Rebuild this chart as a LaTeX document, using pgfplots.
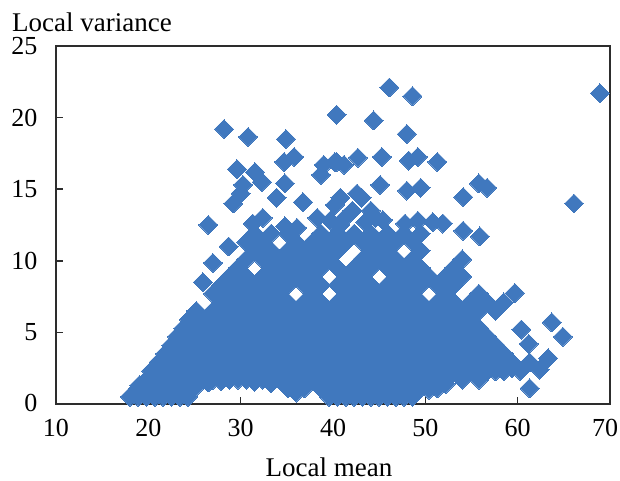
\documentclass[border=0pt]{standalone}
\usepackage{pgfplots}
\pgfplotsset{compat=1.18}
\usepackage{fontspec}
\setmainfont{Liberation Serif}
\definecolor{dia}{RGB}{64,120,190}
\definecolor{axl}{RGB}{45,45,45}
\begin{document}
\begin{tikzpicture}
\useasboundingbox (-56pt,-77pt) rectangle (564pt,404pt);
\begin{axis}[
  at={(0pt,0pt)}, anchor=south west,
  scale only axis, width=554pt, height=358pt,
  xmin=10, xmax=70, ymin=0, ymax=25,
  xtick={10,20,30,40,50,60,70},
  xticklabels={10,20,30,40,50,60,\hspace*{-10pt}70},
  ytick={0,5,10,15,20,25},
  yticklabels={\raisebox{3pt}{0},5,10,15,20,\raisebox{-5pt}{25}},
  tick align=inside, major tick length=7pt,
  tick style={line width=1.6pt,color=axl},
  xtick pos=bottom, ytick pos=left,
  axis line style={line width=1.6pt,color=axl},
  clip=false,
  tick label style={font=\fontsize{26}{26}\selectfont},
  xticklabel style={yshift=-12pt},
  yticklabel style={xshift=-15pt},
]
\addplot[only marks, color=dia, mark=square*, mark size=6.7pt,
  mark options={rotate=45,draw=dia,fill=dia,line width=0pt,solid}] coordinates {
(18,.5)(19.8,.5)(21.6,.5)(23.4,.5)(39.6,.5)(41.4,.5)(43.2,.5)(45,.5)(46.8,.5)(48.6,.5)
(18.9,.5)(20.7,.5)(22.5,.5)(24.3,.5)(40.5,.5)(42.3,.5)(44.1,.5)(45.9,.5)(47.7,.5)
(36,.8)
(18.9,1.1)(20.7,1.1)(22.5,1.1)(24.3,1.1)(35.1,1.1)(36.9,1.1)(38.7,1.1)(40.5,1.1)(42.3,1.1)(44.1,1.1)(45.9,1.1)(47.7,1.1)(49.5,1.1)(51.3,1.1)
(19,1.3)(25,1.1)(26.5,1.5)(27.9,1.6)(29.7,1.7)(31.5,1.55)(33.3,1.45)(35.1,1.1)(50.4,1)(52.2,1.4)(55.8,2)(57.6,2.3)(59.4,2.5)
(19.8,1.7)(21.6,1.7)(23.4,1.7)(25.2,1.7)(27,1.7)(28.8,1.7)(30.6,1.7)(32.4,1.7)(34.2,1.7)(36,1.7)(37.8,1.7)(39.6,1.7)(41.4,1.7)(43.2,1.7)(45,1.7)(46.8,1.7)(48.6,1.7)(50.4,1.7)(52.2,1.7)(54,1.7)(55.8,1.7)
(20.3,2.3)(21.1,2.9)(21.8,3.5)(22.5,4.1)(23.1,4.7)(23.8,5.3)(24.4,5.9)(25.2,6.5)
(20.7,2.3)(22.5,2.3)(24.3,2.3)(26.1,2.3)(27.9,2.3)(29.7,2.3)(31.5,2.3)(33.3,2.3)(35.1,2.3)(36.9,2.3)(38.7,2.3)(40.5,2.3)(42.3,2.3)(44.1,2.3)(45.9,2.3)(47.7,2.3)(49.5,2.3)(51.3,2.3)(53.1,2.3)(54.9,2.3)(56.7,2.3)(58.5,2.3)(60.3,2.3)
(21.6,2.9)(23.4,2.9)(25.2,2.9)(27,2.9)(28.8,2.9)(30.6,2.9)(32.4,2.9)(34.2,2.9)(36,2.9)(37.8,2.9)(39.6,2.9)(41.4,2.9)(43.2,2.9)(45,2.9)(46.8,2.9)(48.6,2.9)(50.4,2.9)(52.2,2.9)(54,2.9)(55.8,2.9)(57.6,2.9)(59.4,2.9)
(22.5,3.5)(24.3,3.5)(26.1,3.5)(27.9,3.5)(29.7,3.5)(31.5,3.5)(33.3,3.5)(35.1,3.5)(36.9,3.5)(38.7,3.5)(40.5,3.5)(42.3,3.5)(44.1,3.5)(45.9,3.5)(47.7,3.5)(49.5,3.5)(51.3,3.5)(53.1,3.5)(54.9,3.5)(56.7,3.5)(58.5,3.5)
(23.4,4.1)(25.2,4.1)(27,4.1)(28.8,4.1)(30.6,4.1)(32.4,4.1)(34.2,4.1)(36,4.1)(37.8,4.1)(39.6,4.1)(41.4,4.1)(43.2,4.1)(45,4.1)(46.8,4.1)(48.6,4.1)(50.4,4.1)(52.2,4.1)(54,4.1)(55.8,4.1)(57.6,4.1)
(24.3,4.7)(26.1,4.7)(27.9,4.7)(29.7,4.7)(31.5,4.7)(33.3,4.7)(35.1,4.7)(36.9,4.7)(38.7,4.7)(40.5,4.7)(42.3,4.7)(44.1,4.7)(45.9,4.7)(47.7,4.7)(49.5,4.7)(51.3,4.7)(53.1,4.7)(54.9,4.7)(56.7,4.7)
(25.2,5.3)(27,5.3)(28.8,5.3)(30.6,5.3)(32.4,5.3)(34.2,5.3)(36,5.3)(37.8,5.3)(39.6,5.3)(41.4,5.3)(43.2,5.3)(45,5.3)(46.8,5.3)(48.6,5.3)(50.4,5.3)(52.2,5.3)(54,5.3)(55.8,5.3)
(26.1,5.9)(27.9,5.9)(29.7,5.9)(31.5,5.9)(33.3,5.9)(35.1,5.9)(36.9,5.9)(38.7,5.9)(40.5,5.9)(42.3,5.9)(44.1,5.9)(45.9,5.9)(47.7,5.9)(49.5,5.9)(51.3,5.9)(53.1,5.9)(54.9,5.9)
(27,6.5)(28.8,6.5)(30.6,6.5)(32.4,6.5)(34.2,6.5)(36,6.5)(37.8,6.5)(39.6,6.5)(41.4,6.5)(43.2,6.5)(45,6.5)(46.8,6.5)(48.6,6.5)(50.4,6.5)(52.2,6.5)(54,6.5)(55.8,6.5)(57.6,6.5)
(27.9,7.1)(29.7,7.1)(31.5,7.1)(33.3,7.1)(35.1,7.1)(36.9,7.1)(38.7,7.1)(40.5,7.1)(42.3,7.1)(44.1,7.1)(45.9,7.1)(47.7,7.1)(49.5,7.1)(51.3,7.1)(53.1,7.1)(54.9,7.1)(56.7,7.1)(58.5,7.1)
(27,7.7)(28.8,7.7)(30.6,7.7)(32.4,7.7)(34.2,7.7)(37.8,7.7)(41.4,7.7)(43.2,7.7)(45,7.7)(46.8,7.7)(48.6,7.7)(52.2,7.7)(55.8,7.7)
(27.9,8.3)(29.7,8.3)(31.5,8.3)(33.3,8.3)(35.1,8.3)(36.9,8.3)(38.7,8.3)(40.5,8.3)(42.3,8.3)(44.1,8.3)(45.9,8.3)(47.7,8.3)(49.5,8.3)(51.3,8.3)(53.1,8.3)
(28.8,8.9)(30.6,8.9)(32.4,8.9)(34.2,8.9)(36,8.9)(37.8,8.9)(41.4,8.9)(43.2,8.9)(46.8,8.9)(48.6,8.9)(50.4,8.9)(52.2,8.9)(54,8.9)
(29.7,9.5)(33.3,9.5)(35.1,9.5)(36.9,9.5)(38.7,9.5)(40.5,9.5)(42.3,9.5)(44.1,9.5)(45.9,9.5)(47.7,9.5)(49.5,9.5)(53.1,9.5)
(30.6,10.1)(32.4,10.1)(34.2,10.1)(36,10.1)(37.8,10.1)(39.6,10.1)(43.2,10.1)(45,10.1)(46.8,10.1)(48.6,10.1)(54,10.1)
(31.5,10.7)(33.3,10.7)(35.1,10.7)(36.9,10.7)(38.7,10.7)(40.5,10.7)(44.1,10.7)(45.9,10.7)(49.5,10.7)
(30.6,11.3)(32.4,11.3)(36,11.3)(37.8,11.3)(39.6,11.3)(41.4,11.3)(43.2,11.3)(45,11.3)(46.8,11.3)(48.6,11.3)
(31.5,11.9)(33.3,11.9)(35.1,11.9)(38.7,11.9)(40.5,11.9)(42.3,11.9)(44.1,11.9)(45.9,11.9)(47.7,11.9)(49.5,11.9)
(28.2,19.2)(30.8,18.65)(34.9,18.5)(29.6,16.4)(31.55,16.2)(32.3,15.5)(35.8,17.25)(34.7,16.9)(39,16.7)(40.2,16.9)(38.7,16)(30.25,15.3)(30,14.7)(29.2,14)(34.8,15.4)(33.9,14.4)(36.75,14.1)(40.4,20.2)(26.5,12.5)(38.3,13)(32.4,13)(31.3,12.6)(34.8,12.4)(36.1,12.3)
(46.1,22.1)(48.6,21.5)(44.4,19.8)(48,18.85)(40.4,16.9)(41.2,16.7)(42.7,17.2)(45.3,17.25)(48.2,17)(49.2,17.25)(51.3,16.9)(45.1,15.3)(48,14.9)(49.5,15.1)(54.1,14.45)(55.8,15.4)(56.7,15.1)(66.1,14)(68.9,21.7)
(40.8,14.4)(42.6,14.7)(43.1,14.4)(44.1,13.5)(45.4,12.85)(47.8,12.6)(49.2,12.8)(50.8,12.7)(51.9,12.6)(54.1,12.1)(55.9,11.7)(28.7,11)(27,9.85)(25.9,8.5)
(63.7,5.7)(64.9,4.7)(61.3,1.1)(59.7,7.75)(60.4,5.2)(61.2,4.2)(63.3,3.2)(62.4,2.4)(61.3,2.9)
(42.1,13.5)(41.3,13)(43.5,12.7)(40.8,12.5)(39.7,12.8)(40.2,13.9)(44.6,13)
};
\end{axis}
\node[anchor=base,font=\fontsize{27}{27}\selectfont] at (273pt,-72pt) {Local mean};
\node[anchor=base,font=\fontsize{27}{27}\selectfont] at (36pt,372pt) {Local variance};
\end{tikzpicture}
\end{document}
